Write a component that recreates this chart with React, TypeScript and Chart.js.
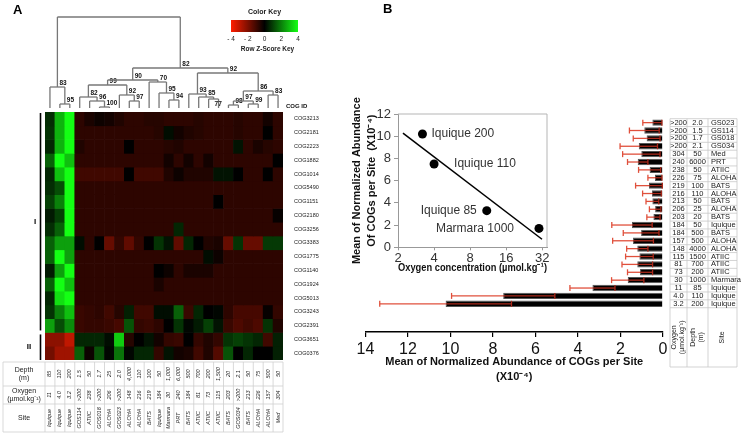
import React, { useEffect, useRef } from "react";
import { Chart, registerables } from "chart.js";
Chart.register(...registerables);

const FONT = "'Liberation Sans', Arial, Helvetica, sans-serif";

// ---------------- Panel A data ----------------
const SITES = ["Iquique","Iquique","Iquique","GOS114","ATIIC","GOS018","ALOHA","GOS023","ALOHA","ALOHA","BATS","Iquique","Marmara","PRT","BATS","ATIIC","ATIIC","ATIIC","BATS","GOS034","BATS","ALOHA","ALOHA","Med"];
const DEPTHS = ["85","110","200","1.5","50","1.7","25","2.0","4,000","110","100","50","1,000","6,000","500","700","200","1,500","20","2.1","50","75","500","50"];
const OXYGENS = ["11","4.0","3.2",">200","238",">200","206",">200","148","216","219","184","30","240","184","81","73","115","203",">200","213","226","157","304"];
const COG_IDS = ["COG3213","COG2181","COG2223","COG1882","COG1014","COG5490","COG1151","COG2180","COG3256","COG3383","COG1775","COG1140","COG1924","COG5013","COG3243","COG2391","COG3651","COG0376"];
const ZSCORES: number[][] = [
  [0.7, 2.8, 4.0, -0.7, -0.4, -0.2, -0.3, -0.5, -0.7, -0.7, -0.6, -0.6, -0.7, -0.7, -0.7, -0.6, -0.7, -0.7, -0.7, -0.6, -0.7, -0.7, -0.3, -0.7],
  [0.8, 2.8, 4.0, -0.7, -0.7, -0.7, -0.7, -0.7, -0.7, -0.7, -0.7, -0.6, 0.2, -0.3, -0.5, -0.6, -0.7, -0.7, -0.7, -0.6, -0.7, -0.7, 0.0, -0.7],
  [0.6, 2.8, 4.0, -0.5, -0.7, -0.7, -0.7, -0.7, 0.0, -0.7, -0.7, -0.7, -0.6, -0.5, -0.7, -0.7, -0.7, -0.7, -0.7, 0.3, -0.7, -0.4, -0.6, -0.7],
  [1.5, 4.0, 3.0, -0.7, -0.7, -0.7, -0.7, -0.7, -0.7, -0.7, -0.7, -0.7, -0.3, -0.7, -0.3, -0.7, -0.3, -0.7, -0.7, -0.7, -0.7, -0.7, -0.7, 0.0],
  [0.6, 3.0, 4.0, -1.0, -1.0, -1.0, -1.0, -1.0, 0.0, -1.0, -1.0, -1.0, -0.5, -0.2, -0.5, -0.5, -0.5, 0.3, 0.3, 0.0, -0.7, -0.7, 0.0, -0.7],
  [0.7, 1.2, 4.0, -0.7, -0.7, -0.7, -0.7, -0.7, -0.7, -0.7, -0.7, -0.7, -0.7, -0.7, -0.7, -0.7, -0.7, -0.7, -0.7, -0.7, -0.7, -0.7, -0.7, -0.7],
  [1.0, 2.0, 4.0, -0.7, -0.7, -0.7, -0.7, -0.7, -0.7, -0.7, -0.7, -0.7, -0.7, -0.7, -0.7, -0.7, -0.7, 0.0, -0.7, -0.7, -0.7, -0.7, -0.7, -0.7],
  [0.4, 1.0, 4.0, -0.7, -0.7, -0.7, -0.7, -0.7, -0.7, -0.7, -0.7, -0.7, -0.7, -0.7, -0.7, -0.7, -0.7, -0.7, -0.7, -0.7, -0.7, -0.7, -0.7, -0.1],
  [0.7, 1.5, 4.0, -0.7, -0.7, -0.7, -0.7, -0.7, -0.7, -0.7, -0.7, -0.7, -0.7, 0.6, -0.7, -0.7, -0.7, -0.7, -0.7, -0.7, -0.7, -0.7, -0.7, -0.7],
  [1.5, 2.5, 2.5, 0.2, -0.7, 0.0, -1.6, -0.8, -1.5, -0.8, 0.0, 0.8, 0.3, -1.5, 0.6, 0.0, -0.5, -0.4, -1.6, 0.8, -1.6, -1.6, 0.9, 0.9],
  [1.5, 4.0, 2.5, -0.7, -0.7, -0.7, -0.7, -0.7, -0.7, -0.7, -0.7, -0.7, -0.7, -0.7, -0.7, -0.7, 0.2, -0.2, -0.7, -0.7, -0.7, -0.7, -0.7, -0.7],
  [0.4, 2.5, 4.0, -0.7, -0.7, -0.7, -0.7, -0.7, -0.7, -0.7, -0.7, 0.0, -0.2, -0.7, -0.4, -0.4, -0.4, -0.7, -0.7, -0.7, -0.7, -0.7, -0.7, -0.7],
  [1.5, 4.0, 3.0, -0.7, -0.7, -0.7, -0.7, -0.7, -0.7, -0.7, -0.7, -0.4, -0.7, -0.7, -0.7, -0.7, -0.7, -0.7, -0.7, -0.7, -0.7, -0.7, -0.7, -0.7],
  [0.6, 3.5, 4.0, -0.7, -0.7, -0.7, -0.7, -0.7, -0.7, -0.7, -0.7, -0.7, -0.7, -0.7, -0.7, -0.7, -0.7, -0.7, -0.7, -0.7, -0.7, -0.7, -0.7, -0.7],
  [0.8, 2.0, 3.0, -0.9, -0.8, -0.7, -1.0, -0.6, 0.5, -1.0, -1.0, 0.2, 0.2, 1.5, -0.9, 0.6, 0.0, 0.1, -0.7, -1.1, -1.1, -1.1, -0.1, -0.8],
  [2.5, 1.2, 2.2, -0.9, -0.8, -0.8, -0.9, -1.1, 1.3, -0.8, -0.9, -0.7, 0.0, 0.8, 0.1, 0.4, 1.0, 0.3, -0.9, -1.2, -1.0, -1.2, 0.8, -0.5],
  [-2.2, -2.2, -3.0, 0.6, 0.6, 0.6, 0.2, 3.2, -0.6, 0.0, 0.3, -0.3, -0.8, -0.9, 0.0, -0.8, -0.5, -0.8, 0.8, 1.0, 0.8, 0.6, -1.0, 0.5],
  [-1.8, -2.5, -2.5, 1.5, -0.2, 1.3, 0.1, 1.8, 0.1, 0.6, 0.6, -0.8, 0.3, -0.3, -0.4, -1.0, -0.5, -1.3, 1.3, 0.0, 0.6, 0.0, 0.0, 0.5],
];
const GROUPS = [{ label: "I", from: 0, to: 16 }, { label: "II", from: 16, to: 18 }];
const KEY_TICKS = [-4, -2, 0, 2, 4];
// dendrogram: [merge height, bootstrap, left, right]; numbers are column leaves
type DNode = number | [number, string, DNode, DNode];
const DENDROGRAM: DNode = [91, "",
  [21, "83", 0, [4, "95", 1, 2]],
  [40, "82",
    [28, "90",
      [23, "99",
        [11, "82", 3, [7, "96", 4, [1, "100", 5, 6]]],
        [13, "92", 7, [7, "97", 8, 9]]],
      [26, "70", 10, [15, "95", 11, [8, "94", 12, 13]]]],
    [35, "92",
      [14, "93", 14, [11, "85", 15, [9, "77", 16, 17]]],
      [17, "86",
        [7, "97", [3, "98", 18, 19], [4, "99", 20, 21]],
        [13, "83", 22, 23]]]]];

// ---------------- Panel B data ----------------
const B_OXYGEN = [">200", ">200", ">200", ">200", "304", "240", "238", "226", "219", "216", "213", "206", "203", "184", "184", "157", "148", "115", "81", "73", "30", "11", "4.0", "3.2"];
const B_DEPTH = ["2.0", "1.5", "1.7", "2.1", "50", "6000", "50", "75", "100", "110", "50", "25", "20", "50", "500", "500", "4000", "1500", "700", "200", "1000", "85", "110", "200"];
const B_SITE = ["GS023", "GS114", "GS018", "GS034", "Med", "PRT", "ATIIC", "ALOHA", "BATS", "ALOHA", "BATS", "ALOHA", "BATS", "Iquique", "BATS", "ALOHA", "ALOHA", "ATIIC", "ATIIC", "ATIIC", "Marmara", "Iquique", "Iquique", "Iquique"];
const BAR_MEANS = [0.50, 0.88, 0.77, 1.14, 1.02, 1.19, 0.63, 0.38, 0.66, 0.52, 0.50, 0.37, 0.45, 1.46, 1.03, 1.41, 1.21, 1.11, 1.21, 1.08, 1.66, 3.32, 7.52, 10.23];
const BAR_SD = [0.45, 0.70, 0.63, 0.88, 0.88, 0.48, 0.52, 0.33, 0.63, 0.44, 0.30, 0.27, 0.31, 0.95, 0.84, 0.96, 0.50, 0.65, 0.72, 0.59, 0.76, 1.06, 2.43, 3.10];

// ---------------- Inset data ----------------
const INSET_OXYGEN = [3.2, 4.0, 11, 30];
const INSET_ABUND = [10.2, 7.5, 3.3, 1.7];
const INSET_LABELS = ["Iquique 200", "Iquique 110", "Iquique 85", "Marmara 1000"];
const INSET_X_TICKS = [2, 4, 8, 16, 32];
const TREND_INTERCEPT = 13.1;
const TREND_SLOPE = -2.48; // per log2 unit of oxygen
const TREND_RANGE = [2.2, 31.8];

// styles
const LABEL_STYLE: [number, CanvasTextAlign][] = [[9, "left"], [20, "left"], [-10, "right"], [-25, "right"]];

function zColor(z: number) {
  const t = Math.max(-4, Math.min(4, z)) / 4;
  if (t < 0) return `rgb(${Math.round(255 * -t)},${Math.round(30 * -t)},0)`;
  return `rgb(${Math.round(20 * t)},${Math.round(255 * t)},${Math.round(20 * t)})`;
}
function seg(ctx: CanvasRenderingContext2D, x1: number, y1: number, x2: number, y2: number) {
  ctx.beginPath(); ctx.moveTo(x1, y1); ctx.lineTo(x2, y2); ctx.stroke();
}
function vtext(ctx: CanvasRenderingContext2D, t: string, x: number, y: number) {
  ctx.save(); ctx.translate(x, y); ctx.rotate(-Math.PI / 2); ctx.fillText(t, 0, 0); ctx.restore();
}

function makeHeatmap(canvas: HTMLCanvasElement) {
  const plugin = {
    id: "panelA",
    afterDraw(chart: any) {
      const ctx: CanvasRenderingContext2D = chart.ctx;
      const xs = chart.scales.x, ys = chart.scales.y, area = chart.chartArea;
      const bw = (area.right - area.left) / SITES.length;
      ctx.save();
      ctx.fillStyle = "#000";
      ctx.font = `bold 13px ${FONT}`; ctx.textAlign = "left"; ctx.textBaseline = "middle";
      ctx.fillText("A", 13, 10);
      // dendrogram
      const baseY = area.top - 4;
      const yOf = (h: number) => baseY - h;
      ctx.strokeStyle = "#777"; ctx.lineWidth = 1.3;
      ctx.font = `bold 6.5px ${FONT}`;
      const draw = (n: DNode): { x: number; h: number } => {
        if (typeof n === "number") return { x: xs.getPixelForValue(n), h: 0 };
        const [h, lab, a, b] = n;
        const A = draw(a), B = draw(b), y = yOf(h);
        seg(ctx, A.x, yOf(A.h), A.x, y); seg(ctx, B.x, yOf(B.h), B.x, y); seg(ctx, A.x, y, B.x, y);
        const cx = (A.x + B.x) / 2;
        if (lab) {
          ctx.fillStyle = "#111"; ctx.textAlign = "left";
          if (lab === "77") { ctx.textBaseline = "top"; ctx.fillText(lab, cx + 1, y + 1.5); }
          else { ctx.textBaseline = "bottom"; ctx.fillText(lab, cx + 2, y - 0.5); }
        }
        return { x: cx, h };
      };
      draw(DENDROGRAM);
      // COG ID header
      ctx.fillStyle = "#111"; ctx.font = `bold 6px ${FONT}`; ctx.textAlign = "left"; ctx.textBaseline = "middle";
      ctx.fillText("COG ID", area.right + 3, area.top - 6);
      // colour key
      const kx0 = 231, kx1 = 298, ky = 20, kh = 12;
      const g = ctx.createLinearGradient(kx0, 0, kx1, 0);
      KEY_TICKS.forEach((v, i) => g.addColorStop(i / (KEY_TICKS.length - 1), zColor(v)));
      ctx.fillStyle = g; ctx.fillRect(kx0, ky, kx1 - kx0, kh);
      ctx.fillStyle = "#222"; ctx.textAlign = "center";
      ctx.font = `bold 7px ${FONT}`; ctx.fillText("Color Key", (kx0 + kx1) / 2, 12);
      ctx.font = `6.5px ${FONT}`;
      KEY_TICKS.forEach((v) => {
        const x = kx0 + ((v + 4) / 8) * (kx1 - kx0);
        ctx.fillText(v < 0 ? "- " + Math.abs(v) : String(v), x, 39);
      });
      ctx.font = `bold 6.5px ${FONT}`; ctx.fillText("Row Z-Score Key", (kx0 + kx1) / 2 + 3, 49);
      // groups
      ctx.strokeStyle = "#000"; ctx.lineWidth = 1.6; ctx.fillStyle = "#000";
      ctx.font = `bold 8px ${FONT}`;
      GROUPS.forEach((gr, gi) => {
        const y0 = ys.getPixelForValue(gr.from) + (gi ? 2 : 1), y1 = ys.getPixelForValue(gr.to) - (gi ? 0 : 2);
        seg(ctx, 40.5, y0, 40.5, y1);
        ctx.fillText(gr.label, gi ? 29 : 35, (y0 + y1) / 2);
      });
      // table
      const tTop = 362, r1 = 386, r2 = 404, tBot = 432, tLeft = 3;
      ctx.strokeStyle = "#cfcfcf"; ctx.lineWidth = 0.8;
      [tTop, r1, r2, tBot].forEach((y) => seg(ctx, tLeft, y, area.right, y));
      seg(ctx, tLeft, tTop, tLeft, tBot);
      for (let i = 0; i <= SITES.length; i++) {
        const x = area.left + i * bw;
        seg(ctx, x, tTop, x, tBot);
      }
      ctx.fillStyle = "#222"; ctx.font = `7px ${FONT}`; ctx.textAlign = "center"; ctx.textBaseline = "middle";
      const hx = (tLeft + area.left) / 2;
      ctx.fillText("Depth", hx, 370); ctx.fillText("(m)", hx, 378);
      ctx.fillText("Oxygen", hx, 391); ctx.fillText("(\u00b5mol.kg\u207b\u00b9)", hx, 399);
      ctx.fillText("Site", hx, 418);
      ctx.font = `italic 5.5px ${FONT}`;
      SITES.forEach((s, i) => {
        const x = xs.getPixelForValue(i);
        vtext(ctx, DEPTHS[i], x, (tTop + r1) / 2);
        vtext(ctx, OXYGENS[i], x, (r1 + r2) / 2);
        vtext(ctx, s, x, (r2 + tBot) / 2);
      });
      ctx.restore();
    },
  };
  return new Chart(canvas, {
    type: "bar",
    data: {
      labels: SITES.map((_, i) => String(i)),
      datasets: COG_IDS.map((id, r) => ({
        label: id,
        data: SITES.map(() => 1),
        backgroundColor: ZSCORES[r].map(zColor),
        borderWidth: 0,
        barPercentage: 1,
        categoryPercentage: 1,
      })),
    },
    options: {
      responsive: false,
      animation: false,
      events: [],
      layout: { padding: { left: 45, right: 42, top: 112, bottom: 74 } },
      plugins: { legend: { display: false }, tooltip: { enabled: false } },
      scales: {
        x: { stacked: true, display: false },
        y: {
          stacked: true, min: 0, max: COG_IDS.length, reverse: true, position: "right",
          grid: { display: false }, border: { display: false },
          afterBuildTicks: (axis: any) => { axis.ticks = COG_IDS.map((_, i) => ({ value: i + 0.5 })); },
          afterFit: (axis: any) => { axis.width = 40; },
          ticks: { autoSkip: false, padding: 3, color: "#222", font: { family: FONT, size: 5.5 }, callback: (_v: any, i: number) => COG_IDS[i] },
        },
      },
    } as any,
    plugins: [plugin],
  });
}

function makeBars(canvas: HTMLCanvasElement) {
  const errPlugin = {
    id: "errBars",
    afterDatasetsDraw(chart: any) {
      const ctx: CanvasRenderingContext2D = chart.ctx, xs = chart.scales.x;
      const meta = chart.getDatasetMeta(0);
      ctx.save(); ctx.lineWidth = 1.3;
      meta.data.forEach((el: any, i: number) => {
        const xl = xs.getPixelForValue(BAR_MEANS[i] + BAR_SD[i]);
        const xr = xs.getPixelForValue(BAR_MEANS[i] - BAR_SD[i]);
        const y = el.y, xe = el.x, c = 3;
        ctx.strokeStyle = "#e0503c";
        seg(ctx, xl, y, xe, y); seg(ctx, xl, y - c, xl, y + c);
        ctx.strokeStyle = "#a8281a";
        seg(ctx, xe, y, xr, y); seg(ctx, xr, y - c, xr, y + c);
      });
      ctx.restore();
    },
    afterDraw(chart: any) {
      const ctx: CanvasRenderingContext2D = chart.ctx, ys = chart.scales.y;
      ctx.save();
      ctx.fillStyle = "#000"; ctx.font = `bold 13px ${FONT}`; ctx.textAlign = "left"; ctx.textBaseline = "middle";
      ctx.fillText("B", 33, 9);
      const cx = [320, 337, 358, 387];
      const top = ys.getPixelForValue(-0.5), rowsBot = ys.getPixelForValue(B_SITE.length - 0.5), hBot = 367;
      ctx.strokeStyle = "#c8c8c8"; ctx.lineWidth = 0.8;
      for (let i = 0; i <= B_SITE.length; i++) {
        const y = ys.getPixelForValue(i - 0.5);
        seg(ctx, cx[0], y, cx[3], y);
      }
      seg(ctx, cx[0], hBot, cx[3], hBot);
      cx.forEach((x) => seg(ctx, x, top, x, hBot));
      ctx.fillStyle = "#222"; ctx.font = `7.5px ${FONT}`; ctx.textBaseline = "middle";
      B_SITE.forEach((s, i) => {
        const y = ys.getPixelForValue(i);
        ctx.textAlign = "center";
        ctx.fillText(B_OXYGEN[i], (cx[0] + cx[1]) / 2, y);
        ctx.fillText(B_DEPTH[i], (cx[1] + cx[2]) / 2, y);
        ctx.textAlign = "left";
        ctx.fillText(s, cx[2] + 3, y);
      });
      ctx.textAlign = "center"; ctx.font = `7px ${FONT}`;
      const hm = (rowsBot + hBot) / 2;
      const c1 = (cx[0] + cx[1]) / 2, c2 = (cx[1] + cx[2]) / 2, c3 = (cx[2] + cx[3]) / 2;
      vtext(ctx, "Oxygen", c1 - 4, hm); vtext(ctx, "(\u00b5mol.kg\u207b\u00b9)", c1 + 4, hm);
      vtext(ctx, "Depth", c2 - 4, hm); vtext(ctx, "(m)", c2 + 4, hm);
      vtext(ctx, "Site", c3, hm);
      ctx.restore();
    },
  };
  return new Chart(canvas, {
    type: "bar",
    data: {
      datasets: [{
        data: BAR_MEANS.map((v, i) => ({ x: v, y: i })),
        backgroundColor: "#000",
        borderColor: "#555",
        borderWidth: 1,
        barPercentage: 0.85,
        categoryPercentage: 0.95,
      }],
    },
    options: {
      indexAxis: "y",
      responsive: false,
      animation: false,
      events: [],
      layout: { padding: { left: 15.5, right: 80, top: 99.3, bottom: 49.5 } },
      plugins: { legend: { display: false }, tooltip: { enabled: false } },
      scales: {
        y: { type: "linear", min: -0.5, max: 24.12, reverse: true, display: false },
        x: {
          type: "linear", min: 0, max: 14, reverse: true,
          ticks: { stepSize: 2, maxRotation: 0, padding: 3, color: "#111", font: { family: FONT, size: 16 } },
          grid: { drawOnChartArea: false, drawTicks: true, tickLength: 5, color: "#000", lineWidth: 1.2 },
          border: { display: true, color: "#000", width: 1.5 },
          title: {
            display: true,
            text: ["Mean of Normalized Abundance of COGs per Site", "(X10\u207b\u2074)"],
            color: "#111", padding: 0,
            font: { family: FONT, size: 11, weight: "bold", lineHeight: 15 / 11 },
          },
          afterFit: (axis: any) => { axis.height = 52.5; },
        },
      },
    } as any,
    plugins: [errPlugin],
  });
}

function makeInset(canvas: HTMLCanvasElement) {
  const plugin = {
    id: "insetDeco",
    afterDraw(chart: any) {
      const ctx: CanvasRenderingContext2D = chart.ctx, a = chart.chartArea;
      ctx.save();
      ctx.strokeStyle = "#b5b5b5"; ctx.lineWidth = 1;
      seg(ctx, a.left, a.top, a.right, a.top); seg(ctx, a.right, a.top, a.right, a.bottom);
      const meta = chart.getDatasetMeta(1);
      ctx.fillStyle = "#333"; ctx.font = `12px ${FONT}`; ctx.textBaseline = "middle";
      meta.data.forEach((p: any, i: number) => {
        const [dx, al] = LABEL_STYLE[i];
        ctx.textAlign = al;
        ctx.fillText(INSET_LABELS[i], p.x + dx, p.y);
      });
      ctx.restore();
    },
  };
  const trend = TREND_RANGE.map((x) => ({ x, y: TREND_INTERCEPT + TREND_SLOPE * Math.log2(x) }));
  const tickFont = { family: FONT, size: 13 };
  return new Chart(canvas, {
    type: "scatter",
    data: {
      datasets: [
        { type: "line", data: trend, borderColor: "#000", borderWidth: 1.5, pointRadius: 0, fill: false },
        { data: INSET_OXYGEN.map((x, i) => ({ x, y: INSET_ABUND[i] })), backgroundColor: "#000", borderWidth: 0, pointRadius: 4.5 },
      ],
    },
    options: {
      responsive: false,
      animation: false,
      events: [],
      layout: { padding: { left: 0, right: 18, top: 19, bottom: 0 } },
      plugins: { legend: { display: false }, tooltip: { enabled: false } },
      scales: {
        x: {
          type: "logarithmic", min: 2, max: 35,
          afterBuildTicks: (axis: any) => { axis.ticks = INSET_X_TICKS.map((v) => ({ value: v })); },
          afterFit: (axis: any) => { axis.height = 32.7; },
          ticks: { autoSkip: false, maxRotation: 0, padding: 0, color: "#333", font: tickFont, callback: (v: any) => String(v) },
          grid: { drawOnChartArea: false, drawTicks: true, tickLength: 3, color: "#999" },
          border: { color: "#999" },
          title: {
            display: true, text: "Oxygen concentration (\u00b5mol.kg\u207b\u00b9)", color: "#111",
            padding: { top: 0, bottom: 5.4 }, font: { family: FONT, size: 11, weight: "bold", lineHeight: 1.2 },
          },
        },
        y: {
          min: 0, max: 12,
          afterFit: (axis: any) => { axis.width = 58; },
          ticks: { stepSize: 2, padding: 3, color: "#333", font: tickFont },
          grid: { drawOnChartArea: false, drawTicks: true, tickLength: 4, color: "#999" },
          border: { color: "#999" },
          title: {
            display: true, text: ["Mean of Normalized Abundance", "Of COGs per Site  (X10\u207b\u2074)"], color: "#111",
            padding: { top: 9.5, bottom: 0 }, font: { family: FONT, size: 11, weight: "bold", lineHeight: 15 / 11 },
          },
        },
      },
    } as any,
    plugins: [plugin],
  });
}

export default function App() {
  const aRef = useRef<HTMLCanvasElement>(null);
  const bRef = useRef<HTMLCanvasElement>(null);
  const cRef = useRef<HTMLCanvasElement>(null);
  useEffect(() => {
    const charts = [makeHeatmap(aRef.current!), makeBars(bRef.current!), makeInset(cRef.current!)];
    return () => charts.forEach((c) => c.destroy());
  }, []);
  return (
    <div style={{ position: "absolute", left: 0, top: 0, width: 743, height: 434, background: "#fff", overflow: "hidden" }}>
      <canvas ref={aRef} width={365} height={434} style={{ position: "absolute", left: 0, top: 0 }} />
      <canvas ref={bRef} width={393} height={434} style={{ position: "absolute", left: 350, top: 0 }} />
      <canvas ref={cRef} width={225} height={185} style={{ position: "absolute", left: 340, top: 95 }} />
    </div>
  );
}
